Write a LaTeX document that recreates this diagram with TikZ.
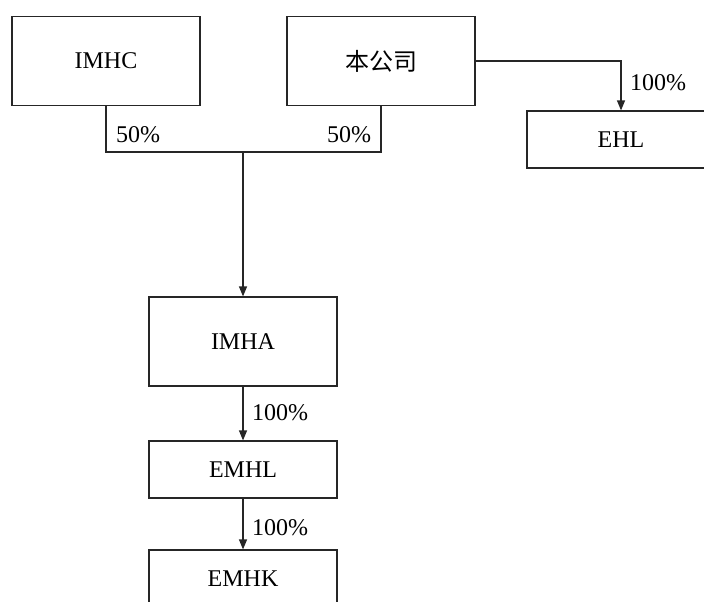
\documentclass[tikz,border=0pt]{standalone}
\usepackage{fontspec}
\setmainfont{Liberation Serif}
\newfontfamily\cjk{Noto Sans CJK SC}
\usetikzlibrary{arrows.meta}
\tikzset{
	firm/.style={draw=black!85, line width=0.6pt, minimum width=94pt, minimum height=44.5pt, inner sep=0pt, font=\fontsize{12}{14}\selectfont},
	flat/.style={firm, minimum height=28.5pt},
	link/.style={draw=black!85, line width=0.6pt},
	own/.style={link, -{Triangle[length=5pt,width=4pt]}},
	share/.style={font=\fontsize{12}{14}\selectfont, inner sep=0pt}
}

\begin{document}
\begin{tikzpicture}[x=0.5pt, y=-0.5pt]
			%%%%% START %%%%%
			\useasboundingbox (0, 0) rectangle (704, 601);
			\clip (0, 0) rectangle (704, 601);
			
			\node[firm] (imhc) at (106, 61) {IMHC};
			\node[firm] (parent) at (381, 61) {\cjk 本公司};
			\node[flat] (ehl) at (621, 139.5) {EHL};
			
			\node[firm] (imha) at (243, 341.5) {IMHA};
			\node[flat] (emhl) at (243, 469.5) {EMHL};
			\node[flat] (emhk) at (243, 578.5) {EMHK};
			
			% joint venture
			\draw[link] (imhc.south) |- (243, 152) coordinate (jv) -| (parent.south);
			\draw[own] (jv) -- (imha.north);
			\node[share] (pa) at (138, 135) {50\%};
			\node[share] (pb) at (349, 135) {50\%};
			
			% subsidiaries
			\draw[own] (parent.east) -| (ehl.north);
			\node[share] (pc) at (658, 83) {100\%};
			
			\draw[own] (imha.south) -- (emhl.north);
			\node[share] (pd) at (280, 413) {100\%};
			\draw[own] (emhl.south) -- (emhk.north);
			\node[share] (pe) at (280, 528) {100\%};
			
			%%%%% END %%%%%
\end{tikzpicture}
\end{document}
